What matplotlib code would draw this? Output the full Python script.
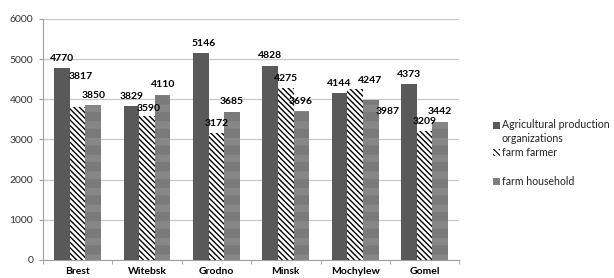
import matplotlib
matplotlib.use("Agg")
import matplotlib.pyplot as plt
from matplotlib.patches import Rectangle
import numpy as np

categories = ["Brest", "Witebsk", "Grodno", "Minsk", "Mochylew", "Gomel"]
series_names = ["Agricultural production\norganizations", "farm farmer", "farm household"]
agri = [4770, 3829, 5146, 4828, 4144, 4373]
farmer = [3817, 3590, 3172, 4275, 4247, 3209]
household = [3850, 4110, 3685, 3696, 3987, 3442]
yticks = [0, 1000, 2000, 3000, 4000, 5000, 6000]

# label offsets (pixels: dx, dy of label centre from bar top)
label_offsets = [
    [(0, 10), (0, 10), (3, 10), (0, 10), (0, 10), (0, 10)],
    [(3, 30), (2, 7), (0, 9), (0, 10), (15, 9), (0, 10)],
    [(0, 10), (0, 10), (0, 10), (-1, 10), (17, -12), (0, 10)],
]

plt.rcParams['font.family'] = ['Lato', 'DejaVu Sans']

fig = plt.figure(figsize=(6.14, 2.78), dpi=100)
ax = fig.add_axes([0.070, 0.065, 0.678, 0.867])

x = np.arange(len(categories))
w = 0.225

b1 = ax.bar(x - w, agri, w, color="#595959", zorder=3)
b2 = ax.bar(x, farmer, w, color="white", edgecolor="black", linewidth=0,
            hatch="\\\\\\\\\\\\", zorder=3)
for p in b2:
    p.set_hatch_linewidth(1.0)
b3 = ax.bar(x + w, household, w, color="#7a7a7a", edgecolor="#878787", linewidth=0,
            hatch="-", zorder=3)
for p in b3:
    p.set_hatch_linewidth(5.5)

px2pt = 0.72
for bars, vals, offs in zip([b1, b2, b3], [agri, farmer, household], label_offsets):
    for r, v, (dx, dy) in zip(bars, vals, offs):
        ax.annotate(str(v), (r.get_x() + r.get_width() / 2, v),
                    xytext=(dx * px2pt, dy * px2pt), textcoords="offset points",
                    ha="center", va="center", fontsize=7.5, fontweight="bold",
                    color="black", zorder=4)

ax.set_ylim(0, 6000)
ax.set_xlim(-0.5, len(categories) - 0.5)
ax.set_yticks(yticks)
ax.set_yticklabels([str(t) for t in yticks], fontsize=7.5, color="#333333")
ax.set_xticks(x)
ax.set_xticklabels(categories, fontsize=7.5, fontweight="bold")
ax.set_xticks(np.arange(-0.5, len(categories)), minor=True)
ax.tick_params(axis="x", which="major", length=0, pad=5)
ax.tick_params(axis="x", which="minor", length=3, color="#a0a0a0")
ax.tick_params(axis="y", length=3, color="#a0a0a0", pad=4)
ax.yaxis.grid(True, color="#c8c8c8", linewidth=0.9, zorder=0)
for s in ["top", "right"]:
    ax.spines[s].set_visible(False)
ax.spines["left"].set_color("#a0a0a0")
ax.spines["bottom"].set_color("#a0a0a0")

# manual legend (figure pixel coords from top-left)
W, H = 614.0, 278.0
legend_rows = [125, 152.7, 181.7]
legend_styles = [dict(facecolor="#595959"),
                 dict(facecolor="white", hatch="\\\\\\\\\\\\"),
                 dict(facecolor="#7f7f7f")]
for name, yc, st in zip(series_names, legend_rows, legend_styles):
    rect = Rectangle((493 / W, 1 - (yc + 3.5) / H), 6.5 / W, 7 / H,
                     transform=fig.transFigure, edgecolor="black", linewidth=0,
                     **st)
    if "hatch" in st:
        rect.set_hatch_linewidth(0.8)
    fig.patches.append(rect)
    lines = name.split("\n")
    for k, ln in enumerate(lines):
        fig.text(502 / W, 1 - (yc + 14 * k) / H, ln, fontsize=7.6,
                 ha="left", va="center", color="#222222")

fig.savefig("out.png", dpi=100)
